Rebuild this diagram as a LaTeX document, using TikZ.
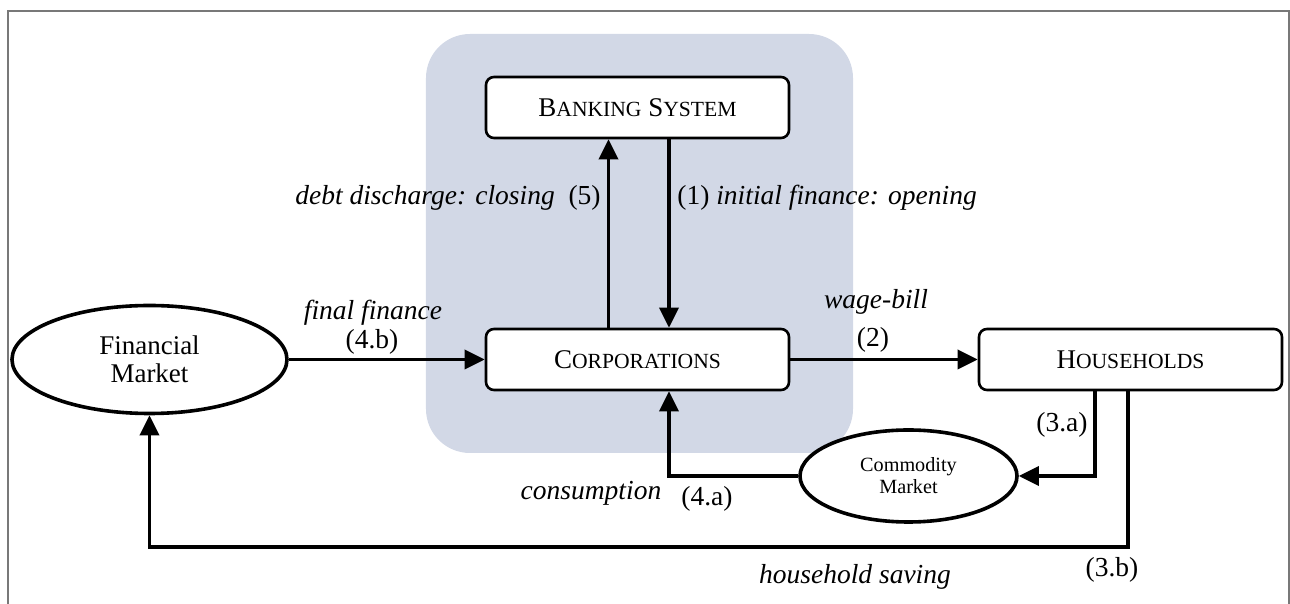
\documentclass[tikz,border=0pt]{standalone}
\usepackage{fontspec}
\setmainfont{Liberation Serif}
\usetikzlibrary{positioning,shapes.geometric,arrows.meta,backgrounds}

\definecolor{shadeblue}{RGB}{210,216,230}
\definecolor{framegray}{RGB}{120,120,120}

% fake small caps: first letter full size, rest smaller capitals
\newcommand{\fsc}[2]{#1{\fontsize{10.8pt}{12pt}\selectfont\uppercase{#2}}}

\tikzset{
  sector/.style={draw, line width=1.3pt, rounded corners=4pt, fill=white,
    minimum width=151.5pt, minimum height=30.5pt,
    font=\fontsize{13.5pt}{15pt}\selectfont},
  market/.style={draw, ellipse, line width=1.8pt, fill=white, inner sep=0pt, align=center},
  flow/.style={-{Triangle[length=10pt,width=9.5pt]}, line width=1.8pt},
  lbl/.style={font=\fontsize{13.75pt}{15pt}\selectfont, inner sep=0pt},
}

\begin{document}
\begin{tikzpicture}
    \useasboundingbox (-318.75pt,-122.25pt) rectangle (326.25pt,179.75pt);
    \draw[framegray,line width=0.7pt] (-314.75pt,-122.25pt) -- (-314.75pt,174.25pt)
        -- (325.75pt,174.25pt) -- (325.75pt,-122.25pt);

    \node[sector] (corp) at (0,0) {\fsc{C}{orporations}};
    \node[sector] (bank) [above of=corp,node distance=126pt] {\fsc{B}{anking} \fsc{S}{ystem}};
    \node[sector] (house) [right of=corp,node distance=246.5pt] {\fsc{H}{ouseholds}};
    \node[market,minimum width=137.5pt,minimum height=54pt,
        font=\fontsize{13.5pt}{14pt}\selectfont] (finmkt) [left of=corp,node distance=244pt] {Financial\\Market};
    \node[market,minimum width=108.5pt,minimum height=46pt,
        font=\fontsize{10.1pt}{11pt}\selectfont] (commkt) at ([xshift=135.5pt,yshift=-58.25pt]corp) {Commodity\\Market};

    \begin{scope}[on background layer]
        \fill[shadeblue,rounded corners=22pt] ([shift={(-105.75pt,-46.75pt)}]corp.center)
            rectangle ([shift={(107.75pt,162.75pt)}]corp.center);
    \end{scope}

    \draw[flow] ([xshift=15.75pt]bank.south) -- ([xshift=15.75pt]corp.north);
    \draw[flow] ([xshift=-14.5pt]corp.north) -- ([xshift=-14.5pt]bank.south);
    \draw[flow] (finmkt.east) -- (corp.west);
    \draw[flow] (corp.east) -- (house.west);
    \draw[flow] ([xshift=-17.75pt]house.south) |- (commkt.east);
    \draw[flow] (commkt.west) -| ([xshift=15.75pt]corp.south);
    \draw[flow] ([xshift=-1.25pt]house.south) -- ++(0,-78pt) -| (finmkt.south);

    \node[lbl] (ffin) at (-132.25pt,23.25pt) {\textit{final finance}};
    \node[lbl] (n4b) at (-132.75pt,8.75pt) {(4.b)};
    \node[lbl] (wage) at (119.25pt,28.75pt) {\textit{wage-bill}};
    \node[lbl] (n2) at (117.75pt,9.75pt) {(2)};
    \node[lbl,anchor=east] (close) at (-18.25pt,80.75pt) {\textit{debt discharge: closing}~~(5)};
    \node[lbl,anchor=west] (open) at (19.75pt,80.75pt) {(1) \textit{initial finance: opening}};
    \node[lbl] (cons) at (-23.25pt,-66.75pt) {\textit{consumption}};
    \node[lbl] (n4a) at (34.75pt,-69.75pt) {(4.a)};
    \node[lbl] (n3a) at (212.25pt,-32.75pt) {(3.a)};
    \node[lbl] (n3b) at (237.25pt,-105.25pt) {(3.b)};
    \node[lbl] (hsav) at (108.75pt,-108.75pt) {\textit{household saving}};
\end{tikzpicture}
\end{document}
